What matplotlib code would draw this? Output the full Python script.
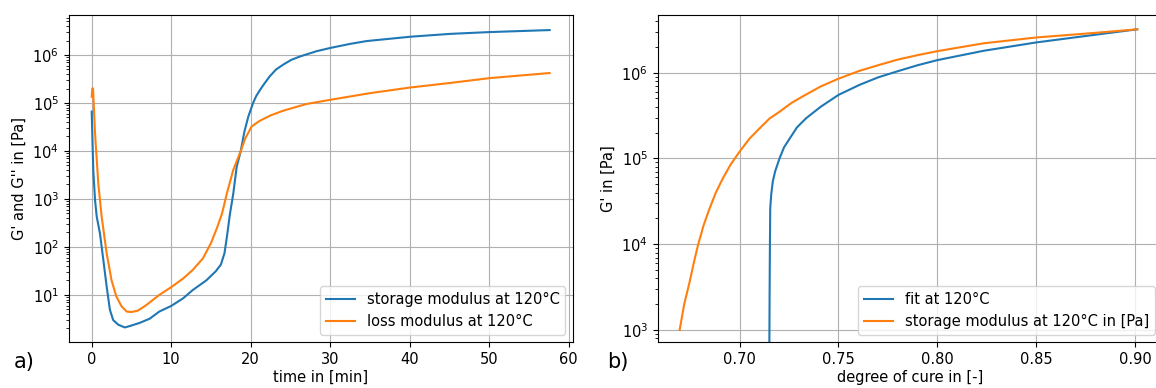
import matplotlib.pyplot as plt

# a) storage and loss modulus over time at 120 °C
time_storage = [0, 0.1, 0.2, 0.42, 0.63, 1.04, 1.46, 1.88, 2.29, 2.7, 3.33, 4.17, 4.8, 6.0,
                7.3, 8.5, 10, 11.5, 12.7, 14.4, 15.6, 16.25, 16.7, 17.0, 17.4, 17.8, 18.24,
                18.75, 19.2, 19.7, 20.3, 20.7, 21.2, 21.7, 22.4, 23.2, 24.1, 25.1, 26.2,
                28.3, 30.1, 32.5, 34.6, 40.1, 45.1, 50.1, 57.6]
storage = [6.6e4, 1.6e4, 4.0e3, 950, 430, 190, 54, 15, 4.9, 3.0, 2.4, 2.1, 2.25, 2.6,
           3.2, 4.5, 5.9, 8.5, 12.6, 20, 31, 43, 74, 160, 500, 1.26e3, 4.7e3,
           1.0e4, 2.5e4, 5.2e4, 1.0e5, 1.4e5, 1.9e5, 2.5e5, 3.6e5, 5.0e5, 6.3e5, 7.9e5, 9.3e5,
           1.2e6, 1.41e6, 1.7e6, 1.95e6, 2.4e6, 2.75e6, 3.0e6, 3.3e6]

time_loss = [0, 0.08, 0.17, 0.42, 0.83, 1.25, 1.88, 2.5, 3.1, 3.75, 4.4, 5.0, 5.8, 6.9,
             8.5, 10, 11.5, 12.7, 14, 15, 15.8, 16.4, 17.0, 17.8, 18.75, 19.3, 20.1, 20.6,
             21.2, 22.5, 24.1, 27.0, 30.1, 35, 40.1, 45, 50.1, 57.6]
loss = [1.35e5, 2.0e5, 2.0e5, 2.3e4, 2.1e3, 430, 74, 20, 9.3, 5.8, 4.5, 4.4, 4.7, 6.2,
        10, 14.5, 22, 33, 58, 120, 260, 500, 1.3e3, 4.0e3, 1.0e4, 1.8e4, 3.2e4, 3.7e4,
        4.3e4, 5.5e4, 6.9e4, 9.5e4, 1.17e5, 1.6e5, 2.1e5, 2.6e5, 3.3e5, 4.2e5]

# b) storage modulus over degree of cure, measured and fitted
cure_fit = [0.7149, 0.7151, 0.7152, 0.7153, 0.7155, 0.7160, 0.7168, 0.7180, 0.7202, 0.7225,
            0.7253, 0.7290, 0.7337, 0.741, 0.75, 0.7606, 0.77, 0.78, 0.79, 0.80, 0.8235,
            0.85, 0.879, 0.9011]
g_fit = [1e2, 1e3, 3e3, 7.2e3, 2.6e4, 3.8e4, 5.4e4, 7.1e4, 1.0e5, 1.35e5,
         1.7e5, 2.3e5, 2.95e5, 4.0e5, 5.5e5, 7.2e5, 8.8e5, 1.04e6, 1.22e6, 1.4e6, 1.8e6,
         2.25e6, 2.75e6, 3.2e6]

cure_meas = [0.6697, 0.6720, 0.6747, 0.6768, 0.679, 0.6818, 0.6848, 0.688, 0.6916, 0.6955,
             0.70, 0.705, 0.7101, 0.715, 0.7202, 0.726, 0.732, 0.741, 0.75, 0.7606, 0.77,
             0.78, 0.79, 0.80, 0.8235, 0.85, 0.879, 0.9011]
g_meas = [1.0e3, 2.0e3, 3.6e3, 6.0e3, 9.8e3, 1.66e4, 2.6e4, 4.0e4, 5.9e4, 8.5e4,
          1.2e5, 1.7e5, 2.24e5, 2.9e5, 3.5e5, 4.4e5, 5.3e5, 6.9e5, 8.5e5, 1.05e6, 1.22e6,
          1.42e6, 1.6e6, 1.78e6, 2.2e6, 2.57e6, 2.9e6, 3.2e6]

plt.rcParams['font.family'] = 'DejaVu Sans'
plt.rcParams['font.size'] = 10.5

fig = plt.figure(figsize=(11.56, 3.88), dpi=100)
W, H = 1156, 388
bottom = (H - 342.3) / H
height = (342.3 - 15) / H
ax1 = fig.add_axes([68.8 / W, bottom, (572.7 - 68.8) / W, height])
ax2 = fig.add_axes([657.7 / W, bottom, (1162 - 657.7) / W, height])

ax1.plot(time_storage, storage, color='tab:blue', label='storage modulus at 120°C')
ax1.plot(time_loss, loss, color='tab:orange', label='loss modulus at 120°C')
ax1.set_yscale('log')
ax1.set_xlim(-2.88, 60.5)
ax1.set_ylim(1.03, 6.8e6)
ax1.set_xlabel('time in [min]', labelpad=2)
ax1.set_ylabel("G' and G'' in [Pa]")
ax1.grid(True)
ax1.legend(loc='lower right')

ax2.plot(cure_fit, g_fit, color='tab:blue', label='fit at 120°C')
ax2.plot(cure_meas, g_meas, color='tab:orange', label='storage modulus at 120°C in [Pa]')
ax2.set_yscale('log')
ax2.set_xlim(0.6586, 0.9136)
ax2.set_ylim(10 ** 2.857, 10 ** 6.672)
ax2.set_xlabel('degree of cure in [-]', labelpad=2)
ax2.set_ylabel("G' in [Pa]")
ax2.grid(True)
ax2.legend(loc='lower right')

fig.text(14 / W, 1 - 362 / H, 'a)', fontsize=15, va='center')
fig.text(607 / W, 1 - 362 / H, 'b)', fontsize=15, va='center')

fig.savefig('out.png', dpi=100)
